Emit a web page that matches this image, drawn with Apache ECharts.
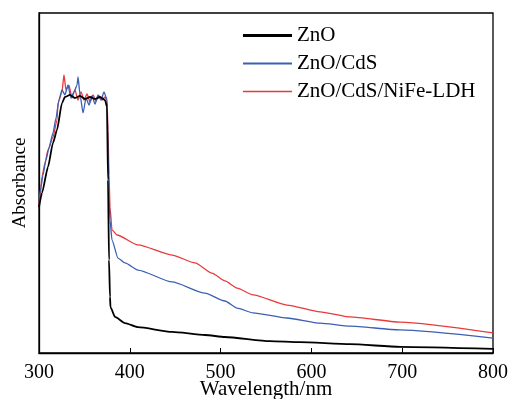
<!DOCTYPE html>
<html>
<head>
<meta charset="utf-8">
<script src="https://cdn.jsdelivr.net/npm/echarts@6/dist/echarts.min.js"></script>
<style>
  html, body { margin: 0; padding: 0; background: #fff; }
  #chart { width: 509px; height: 399px; }
</style>
</head>
<body>
<div id="chart"></div>
<script>
// wavelength (nm) / absorbance (a.u., 0-100 scale)
const seriesNames = ['ZnO', 'ZnO/CdS', 'ZnO/CdS/NiFe-LDH'];
const xTicks = [300, 400, 500, 600, 700, 800];

const znoWl = [300, 303.3, 309.9, 315.4, 319.8, 325.3, 328.6, 334.1, 339.6, 345.2, 350.7, 356.2, 361.7, 367.2, 372.7, 374.9, 376, 377.1, 378.2, 378.7, 383.7, 394.7, 409, 446.5, 482.8, 504.8, 554.4, 587.4, 642.5, 697.6, 800];
const znoAbs = [42.9, 47.1, 54.7, 61.8, 65.6, 73.5, 75.3, 75.9, 75.0, 75.6, 74.7, 75.3, 74.7, 75.3, 74.4, 72.4, 50.9, 27.4, 16.5, 13.5, 10.6, 8.8, 7.6, 6.2, 5.3, 4.7, 3.5, 3.2, 2.6, 1.8, 1.2];

const cdsWl = [300, 302.2, 304.4, 307.7, 311, 315.4, 318.7, 322, 325.3, 328.6, 331.9, 335.2, 338.5, 341.9, 343, 345.2, 348.5, 351.8, 355.1, 358.4, 361.7, 365, 368.3, 371.6, 373.8, 374.9, 376, 377.1, 378.2, 380.4, 387, 394.7, 409, 446.5, 482.8, 504.8, 518.1, 535.7, 573.1, 609.5, 642.5, 697.6, 800];
const cdsAbs = [45, 48.8, 52.4, 56.8, 60.3, 64.7, 69.1, 74.4, 77.4, 75.9, 78.8, 75, 76.8, 78.8, 81.2, 75.9, 70.6, 75, 72.9, 75.6, 73.2, 75.9, 74.4, 76.8, 75.3, 74.4, 59.7, 46.5, 39.1, 33.2, 27.9, 26.5, 24.4, 20.9, 17.6, 15.3, 13.2, 11.8, 10.3, 8.8, 7.9, 6.8, 4.4];

const ldhWl = [300, 301.1, 303.3, 306.6, 309.9, 315.4, 319.8, 320.9, 325.3, 327.5, 329.7, 333, 336.3, 339.6, 342.9, 346.3, 349.6, 352.9, 356.2, 359.5, 362.8, 366.1, 369.4, 372.7, 374.9, 376, 377.1, 378.2, 380.4, 385.9, 409, 446.5, 471.8, 490.5, 504.8, 518.1, 535.7, 573.1, 609.5, 642.5, 697.6, 800];
const ldhAbs = [43.5, 45.9, 51.8, 55.9, 59.7, 63.5, 68.5, 73.5, 76.8, 81.8, 77.4, 78.8, 75, 77.4, 74.4, 76.8, 74.4, 76.2, 73.8, 75.9, 74.1, 75.6, 74.4, 75.3, 74.4, 65.6, 52.4, 42.9, 36.2, 34.7, 31.8, 28.8, 26.5, 23.5, 21.2, 19.1, 17.1, 14.1, 12.1, 10.6, 9.1, 5.9];

const colors = ['#000000', '#3a5fb3', '#e8393b'];
const widths = [1.8, 1.3, 1.3];
const legendIcons = [
  'path://M0,0H49V3H0Z',
  'path://M0,0H49V2H0Z',
  'path://M0,0H49V1.6H0Z'
];

const zip = (xs, ys) => xs.map((x, i) => [x, ys[i]]);
const serif = 'Liberation Serif, Times New Roman, serif';

const chart = echarts.init(document.getElementById('chart'));
chart.setOption({
  animation: false,
  grid: {
    left: 39, right: 16, top: 13, bottom: 46,
    outerBoundsMode: 'none',
    containLabel: false,
    show: true, borderColor: '#000', borderWidth: 1.3
  },
  legend: {
    orient: 'vertical',
    left: 243, top: 25, padding: 0,
    itemWidth: 49, itemHeight: 14, itemGap: 7,
    symbolKeepAspect: true,
    data: seriesNames.map((n, i) => ({ name: n, icon: legendIcons[i] })),
    textStyle: { fontFamily: serif, fontSize: 21, color: '#000' }
  },
  xAxis: {
    type: 'value',
    min: 300, max: 800, interval: 100,
    name: 'Wavelength/nm',
    nameLocation: 'middle',
    nameGap: 26,
    nameMoveOverlap: false,
    nameTextStyle: { fontFamily: serif, fontSize: 21, color: '#000' },
    axisLine: { lineStyle: { color: '#000', width: 1.3 } },
    axisTick: { inside: true, length: 5, lineStyle: { color: '#000' } },
    axisLabel: {
      fontFamily: serif, fontSize: 20, color: '#000', margin: 10,
      formatter: v => xTicks.includes(v) ? String(v) : ''
    },
    splitLine: { show: false }
  },
  yAxis: {
    type: 'value',
    min: 0, max: 100,
    name: 'Absorbance',
    nameLocation: 'middle',
    nameGap: 9,
    nameMoveOverlap: false,
    nameTextStyle: { fontFamily: serif, fontSize: 19, color: '#000' },
    axisLine: { show: true, lineStyle: { color: '#000', width: 1.3 } },
    axisTick: { show: false },
    axisLabel: { show: false },
    splitLine: { show: false }
  },
  series: [
    [znoWl, znoAbs], [cdsWl, cdsAbs], [ldhWl, ldhAbs]
  ].map(([xs, ys], i) => ({
    name: seriesNames[i],
    type: 'line',
    data: zip(xs, ys),
    showSymbol: false,
    symbol: 'none',
    smooth: 0.2,
    smoothMonotone: 'x',
    color: colors[i],
    lineStyle: { color: colors[i], width: widths[i] },
    z: 3 - i
  }))
});
</script>
</body>
</html>
